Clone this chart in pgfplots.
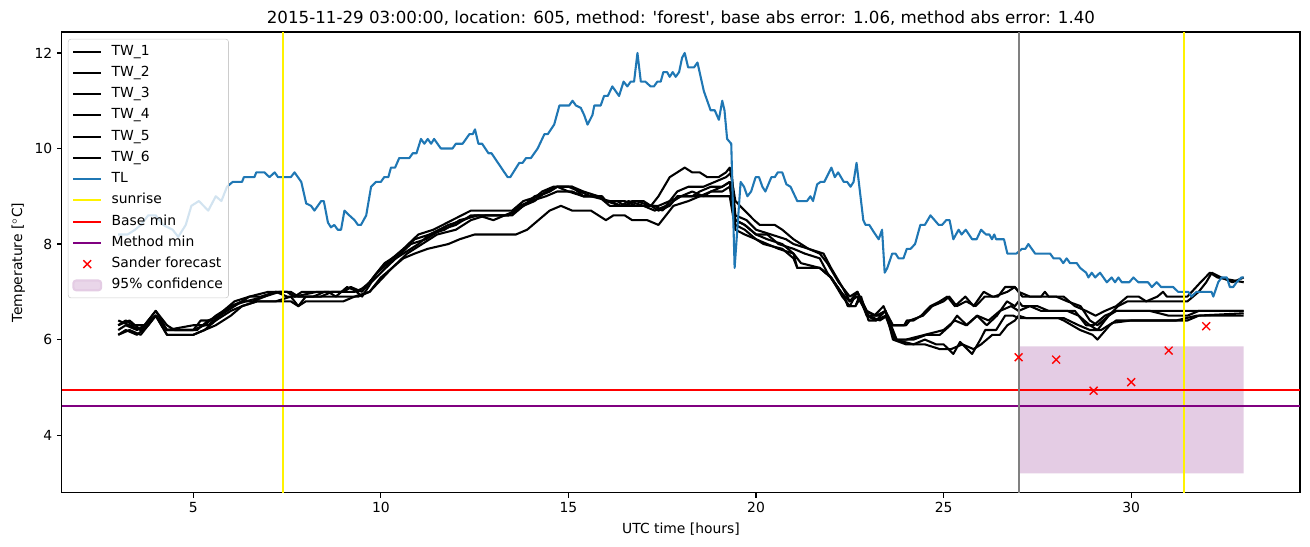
\documentclass[border=0pt]{standalone}
\usepackage{fontspec}
\setmainfont{DejaVu Sans}
\usepackage{pgfplots}
\pgfplotsset{compat=1.18}
\definecolor{tlblue}{RGB}{31,119,180}
\definecolor{mplpurple}{RGB}{128,0,128}
\definecolor{conf}{RGB}{228,204,228}
\definecolor{mplgray}{RGB}{128,128,128}
\pgfplotsset{
  markleg/.style={legend image code/.code={\draw[##1] plot coordinates {(10pt,0pt)};}},
  confleg/.style={legend image code/.code={\fill[conf] (0pt,-3.5pt) rectangle (20pt,3.5pt);}},
}
\begin{document}
\begin{tikzpicture}
\useasboundingbox (-44.6pt,-38.9pt) rectangle (898.6pt,354.9pt);
\begin{axis}[
  at={(0,0)}, anchor=south west,
  scale only axis, width=891.4pt, height=331.9pt,
  xmin=1.5, xmax=34.5, ymin=2.79, ymax=12.44,
  xtick={5,10,...,30}, ytick={4,6,...,12},
  tick align=outside, major tick length=3.5pt,
  tick style={line width=0.8pt, black},
  axis line style={line width=0.8pt},
  xtick pos=bottom, ytick pos=left,
  font=\fontsize{10}{12}\selectfont,
  /pgf/number format/assume math mode=true,
  ticklabel style={font=\fontsize{10}{12}\selectfont},
  title={2015-11-29 03:00:00, location: 605, method: \textquotesingle forest\textquotesingle, base abs error: 1.06, method abs error: 1.40},
  title style={font=\fontsize{12}{14}\selectfont, yshift=-5pt},
  xlabel={UTC time [hours]}, ylabel={Temperature [$^\circ$C]},
  legend cell align=left,
  legend image code/.code={\draw[#1] (0pt,0pt) -- (20pt,0pt);},
  legend style={at={(0.0048,0.985)}, anchor=north west, draw=black!20, rounded corners=2pt,
    fill=white, fill opacity=0.8, text opacity=1, font=\fontsize{10}{12}\selectfont,
    row sep=3.3pt, column sep=5.8pt, inner xsep=3pt, inner ysep=3pt,
    nodes={inner sep=1pt, text height=0.75em, text depth=0.25em}},
  every axis plot/.append style={line width=1.5pt},
]
\addplot[fill=conf, draw=none, forget plot] coordinates {(27,3.2) (33,3.2) (33,5.86) (27,5.86) (27,3.2)};
\addplot[black, line join=round] coordinates {(3.0,6.3)(3.2,6.4)(3.4,6.3)(3.7,6.3)(4.0,6.6)(4.3,6.3)(4.5,6.2)(5.0,6.2)(5.2,6.4)(5.6,6.4)(5.8,6.6)(6.1,6.8)(6.5,6.9)(7.0,7.0)(7.5,7.0)(7.7,6.9)(7.9,7.0)(8.6,7.0)(8.8,6.9)(9.1,7.1)(9.4,7.0)(9.7,7.2)(10.0,7.5)(10.3,7.7)(10.6,7.9)(11.0,8.2)(11.4,8.3)(11.9,8.5)(12.4,8.7)(12.9,8.7)(13.5,8.7)(13.8,8.9)(14.2,9.0)(14.5,9.1)(14.7,9.2)(15.1,9.2)(15.4,9.1)(15.8,9.0)(16.0,8.9)(16.3,8.9)(16.5,8.8)(16.7,8.9)(17.0,8.9)(17.2,8.8)(17.4,9.0)(17.7,9.4)(18.1,9.6)(18.3,9.5)(18.5,9.5)(18.7,9.4)(19.0,9.4)(19.2,9.5)(19.3,9.6)(19.45,8.9)(19.7,8.7)(19.95,8.5)(20.1,8.4)(20.5,8.4)(20.7,8.3)(21.0,8.1)(21.4,7.9)(21.7,7.8)(21.9,7.6)(22.2,7.2)(22.5,6.9)(22.7,7.0)(22.95,6.6)(23.15,6.5)(23.4,6.7)(23.6,6.3)(23.95,6.3)(24.02,6.4)(24.2,6.4)(24.4,6.5)(24.65,6.7)(24.9,6.8)(25.1,6.9)(25.3,6.7)(25.58,6.9)(25.8,6.7)(26.07,7.0)(26.3,6.9)(26.45,6.9)(26.64,7.1)(26.9,7.1)(27.0,7.0)(27.1,6.9)(27.6,6.9)(27.7,7.0)(27.8,6.9)(28.2,6.9)(28.5,6.7)(28.8,6.6)(29.05,6.5)(29.3,6.6)(29.6,6.7)(29.9,6.9)(30.2,6.9)(30.4,6.8)(30.7,6.9)(30.85,7.0)(30.95,6.9)(31.5,6.9)(31.85,7.2)(32.1,7.4)(32.3,7.3)(33.0,7.2)};
\addlegendentry{TW\_1}
\addplot[black, line join=round] coordinates {(3.0,6.2)(3.2,6.3)(3.5,6.2)(3.7,6.3)(4.0,6.5)(4.3,6.2)(5.0,6.2)(5.3,6.3)(5.6,6.5)(6.0,6.7)(6.4,6.8)(6.9,6.9)(7.3,7.0)(7.6,7.0)(7.8,6.9)(8.4,6.9)(8.7,7.0)(9.0,7.0)(9.2,7.1)(9.5,7.0)(9.8,7.3)(10.1,7.6)(10.5,7.8)(10.9,8.1)(11.3,8.2)(11.8,8.4)(12.2,8.5)(12.5,8.6)(13.4,8.6)(13.7,8.8)(14.0,8.9)(14.4,9.0)(14.7,9.1)(15.1,9.1)(15.4,9.0)(15.9,9.0)(16.0,8.9)(16.5,8.9)(16.8,8.8)(17.3,8.8)(17.5,8.7)(17.8,8.9)(18.0,9.0)(18.3,9.1)(18.6,9.0)(18.8,9.1)(19.1,9.2)(19.3,9.3)(19.45,8.5)(19.7,8.4)(20.0,8.2)(20.3,8.1)(20.7,8.0)(21.0,7.8)(21.2,7.6)(21.7,7.5)(22.0,7.3)(22.3,6.9)(22.5,6.7)(22.7,7.0)(22.95,6.5)(23.2,6.4)(23.45,6.6)(23.7,6.0)(24.2,6.0)(24.54,6.1)(24.9,6.1)(25.18,6.3)(25.36,6.5)(25.62,6.3)(25.89,6.5)(26.15,6.3)(26.42,6.5)(26.69,6.8)(26.9,6.7)(27.0,6.8)(27.1,6.7)(27.5,6.7)(27.8,6.6)(28.3,6.6)(28.6,6.5)(28.9,6.3)(29.1,6.2)(29.4,6.5)(29.6,6.6)(31.0,6.6)(33.0,6.6)};
\addlegendentry{TW\_2}
\addplot[black, line join=round] coordinates {(3.0,6.3)(3.3,6.4)(3.6,6.2)(4.0,6.6)(4.3,6.2)(5.0,6.3)(5.4,6.3)(5.7,6.5)(6.1,6.7)(6.5,6.9)(6.8,6.9)(7.2,7.0)(7.5,7.0)(7.7,6.9)(8.3,7.0)(9.0,7.0)(9.2,7.1)(9.5,6.9)(9.75,7.2)(10.0,7.4)(10.4,7.7)(10.8,8.0)(11.2,8.1)(11.6,8.3)(12.0,8.4)(12.4,8.6)(13.4,8.6)(13.8,8.8)(14.1,9.0)(14.5,9.1)(14.7,9.2)(15.1,9.2)(15.4,9.0)(15.8,9.0)(16.0,8.9)(16.4,8.8)(16.6,8.9)(17.0,8.8)(17.4,8.8)(17.7,8.9)(18.0,9.0)(18.3,9.0)(18.5,9.1)(18.8,9.2)(19.1,9.2)(19.3,9.3)(19.45,8.5)(19.7,8.4)(20.0,8.2)(20.3,8.2)(20.6,8.0)(21.0,7.9)(21.3,7.8)(21.7,7.7)(21.9,7.4)(22.25,7.0)(22.5,6.8)(22.7,7.0)(22.95,6.6)(23.2,6.5)(23.45,6.6)(23.65,6.0)(24.0,5.9)(24.5,5.9)(24.9,5.8)(25.2,5.8)(25.5,5.9)(25.8,5.8)(26.0,5.9)(26.3,6.1)(26.5,6.1)(26.7,6.3)(26.9,6.4)(27.0,6.5)(27.2,6.45)(28.2,6.45)(28.6,6.3)(28.9,6.2)(29.2,6.2)(29.5,6.35)(30.0,6.4)(31.5,6.4)(31.8,6.5)(33.0,6.5)};
\addlegendentry{TW\_3}
\addplot[black, line join=round] coordinates {(3.0,6.4)(3.3,6.3)(3.6,6.2)(4.0,6.5)(4.3,6.2)(5.1,6.2)(5.4,6.4)(5.7,6.5)(6.0,6.7)(6.3,6.8)(6.6,6.8)(6.9,6.9)(7.2,7.0)(7.5,6.9)(8.2,6.9)(8.5,7.0)(9.3,7.0)(9.6,7.1)(9.9,7.4)(10.2,7.6)(10.6,7.8)(11.0,8.0)(11.3,8.2)(11.7,8.3)(12.1,8.5)(12.6,8.6)(13.0,8.5)(13.3,8.6)(13.6,8.7)(14.0,8.9)(14.3,9.1)(14.6,9.2)(15.0,9.2)(15.3,9.1)(15.6,9.0)(16.1,8.9)(16.4,8.8)(17.0,8.8)(17.3,8.7)(17.6,8.8)(17.9,9.1)(18.2,9.2)(18.6,9.2)(18.9,9.3)(19.2,9.4)(19.35,9.5)(19.45,8.6)(19.75,8.5)(20.0,8.3)(20.4,8.2)(20.8,8.1)(21.0,8.0)(21.4,7.9)(21.8,7.8)(22.0,7.5)(22.3,7.1)(22.5,6.8)(22.7,6.9)(23.0,6.5)(23.3,6.5)(23.45,6.6)(23.65,6.3)(24.0,6.3)(24.1,6.4)(24.45,6.5)(24.7,6.7)(25.0,6.8)(25.15,6.9)(25.35,6.7)(25.6,6.8)(25.85,6.7)(26.1,6.9)(26.35,6.9)(26.7,7.0)(26.9,7.1)(27.0,7.0)(27.3,6.9)(28.0,6.9)(28.3,6.8)(28.65,6.7)(28.9,6.4)(29.1,6.3)(29.4,6.5)(29.65,6.7)(29.9,6.8)(31.5,6.8)(31.8,7.0)(32.0,7.2)(32.15,7.4)(32.4,7.3)(32.7,7.2)(33.0,7.3)};
\addlegendentry{TW\_4}
\addplot[black, line join=round] coordinates {(3.0,6.1)(3.3,6.2)(3.6,6.1)(4.0,6.5)(4.3,6.1)(5.0,6.1)(5.3,6.2)(5.6,6.4)(6.0,6.6)(6.3,6.7)(6.7,6.8)(7.2,6.8)(7.6,6.9)(7.8,6.7)(8.0,6.9)(9.4,6.9)(9.7,7.0)(10.0,7.3)(10.3,7.5)(10.7,7.8)(11.1,8.0)(11.5,8.2)(12.0,8.3)(12.4,8.5)(12.8,8.6)(13.5,8.6)(13.8,8.8)(14.1,8.9)(14.4,9.1)(14.7,9.2)(15.0,9.1)(15.4,9.0)(15.8,9.0)(16.1,8.8)(16.5,8.8)(16.8,8.9)(17.2,8.8)(17.4,8.7)(17.7,8.8)(17.9,9.0)(18.5,9.0)(18.8,9.1)(19.1,9.1)(19.3,9.2)(19.45,8.4)(19.7,8.3)(20.0,8.1)(20.3,8.0)(20.6,7.9)(21.0,7.8)(21.1,7.5)(21.7,7.5)(22.0,7.3)(22.35,6.9)(22.45,6.7)(22.65,6.7)(22.75,6.9)(23.0,6.5)(23.3,6.4)(23.5,6.5)(23.75,6.0)(24.0,6.0)(24.5,6.1)(25.0,6.2)(25.3,6.4)(25.6,6.3)(25.9,6.5)(26.2,6.4)(26.5,6.6)(26.8,6.7)(27.0,6.6)(27.3,6.7)(27.6,6.6)(28.5,6.6)(28.8,6.3)(29.0,6.3)(29.3,6.5)(29.6,6.6)(30.5,6.6)(31.0,6.5)(31.5,6.5)(31.8,6.6)(33.0,6.6)};
\addlegendentry{TW\_5}
\addplot[black, line join=round] coordinates {(3.0,6.1)(3.2,6.2)(3.5,6.1)(3.8,6.3)(4.0,6.5)(4.3,6.1)(5.0,6.1)(5.3,6.2)(5.6,6.3)(6.0,6.5)(6.3,6.7)(6.7,6.8)(7.6,6.8)(7.8,6.7)(8.0,6.8)(9.0,6.8)(9.3,6.9)(9.7,7.0)(10.0,7.25)(10.3,7.5)(10.6,7.7)(10.9,7.8)(11.25,7.9)(11.8,8.0)(12.1,8.1)(12.5,8.2)(13.6,8.2)(13.9,8.3)(14.2,8.5)(14.5,8.7)(14.8,8.8)(15.1,8.7)(15.6,8.7)(15.8,8.6)(16.0,8.5)(16.2,8.6)(16.5,8.6)(16.7,8.5)(17.1,8.5)(17.4,8.4)(17.6,8.6)(17.8,8.8)(18.2,8.9)(18.5,9.0)(19.3,9.0)(19.45,8.3)(19.7,8.2)(20.0,8.1)(20.2,8.0)(20.7,7.9)(21.0,7.7)(21.1,7.5)(21.7,7.5)(22.0,7.3)(22.35,6.9)(22.45,6.7)(22.65,6.7)(22.8,6.9)(23.0,6.4)(23.2,6.4)(23.45,6.5)(23.7,6.0)(24.2,5.9)(24.5,6.0)(24.8,5.9)(25.0,5.9)(25.26,5.7)(25.44,5.95)(25.76,5.7)(25.98,6.0)(26.11,6.2)(26.4,6.2)(26.64,6.5)(26.86,6.5)(27.0,6.45)(28.06,6.45)(28.2,6.4)(28.64,6.2)(28.97,6.1)(29.1,6.0)(29.43,6.3)(29.6,6.4)(31.2,6.4)(31.74,6.5)(33.0,6.55)};
\addlegendentry{TW\_6}
\addplot[tlblue, line join=round] coordinates {(3.0,8.2)(3.25,8.2)(3.45,8.3)(3.6,8.4)(3.8,8.6)(4.0,8.6)(4.2,8.4)(4.45,8.3)(4.6,8.15)(4.8,8.4)(4.95,8.8)(5.15,8.9)(5.4,8.7)(5.6,9.0)(5.75,8.9)(5.9,9.2)(6.05,9.3)(6.3,9.3)(6.35,9.4)(6.63,9.4)(6.68,9.5)(6.9,9.5)(7.03,9.4)(7.17,9.5)(7.26,9.4)(7.6,9.4)(7.7,9.5)(7.88,9.3)(8.01,8.85)(8.14,8.8)(8.23,8.7)(8.41,8.9)(8.48,8.9)(8.59,8.45)(8.67,8.35)(8.76,8.4)(8.85,8.3)(8.94,8.3)(9.03,8.7)(9.16,8.6)(9.3,8.5)(9.39,8.4)(9.47,8.4)(9.61,8.6)(9.74,9.2)(9.87,9.3)(10.0,9.3)(10.09,9.4)(10.2,9.4)(10.27,9.6)(10.38,9.6)(10.49,9.8)(10.76,9.8)(10.85,9.9)(10.95,9.9)(11.07,10.2)(11.16,10.1)(11.25,10.2)(11.34,10.1)(11.42,10.2)(11.6,10.0)(11.91,10.0)(12.0,10.1)(12.18,10.1)(12.36,10.3)(12.45,10.3)(12.51,10.4)(12.6,10.1)(12.7,10.1)(12.87,9.9)(12.95,9.9)(13.38,9.4)(13.45,9.4)(13.69,9.7)(13.78,9.7)(13.87,9.8)(14.0,9.8)(14.18,10.0)(14.36,10.3)(14.45,10.3)(14.62,10.5)(14.76,10.9)(15.02,10.9)(15.11,11.0)(15.2,10.9)(15.33,10.85)(15.42,10.7)(15.51,10.5)(15.64,10.7)(15.69,10.9)(15.86,10.9)(15.95,11.1)(16.05,11.1)(16.17,11.3)(16.35,11.1)(16.47,11.4)(16.57,11.3)(16.66,11.4)(16.75,11.4)(16.84,12.0)(16.93,11.4)(17.05,11.4)(17.19,11.3)(17.28,11.3)(17.37,11.4)(17.46,11.4)(17.53,11.6)(17.63,11.6)(17.7,11.5)(17.78,11.6)(17.86,11.5)(17.95,11.6)(18.03,11.9)(18.1,12.0)(18.19,11.7)(18.35,11.7)(18.44,11.8)(18.61,11.2)(18.79,10.8)(18.9,10.8)(19.01,10.6)(19.1,11.0)(19.16,10.8)(19.23,10.2)(19.34,10.1)(19.43,7.5)(19.59,9.3)(19.68,9.2)(19.77,9.0)(19.87,9.1)(19.99,9.4)(20.08,9.4)(20.17,9.2)(20.25,9.1)(20.41,9.4)(20.5,9.4)(20.58,9.5)(20.7,9.5)(20.81,9.25)(20.92,9.2)(21.1,8.9)(21.36,8.9)(21.45,9.0)(21.52,8.9)(21.63,9.25)(21.72,9.3)(21.82,9.3)(22.01,9.6)(22.1,9.4)(22.19,9.5)(22.34,9.3)(22.43,9.3)(22.52,9.2)(22.6,9.3)(22.68,9.7)(22.86,8.5)(22.92,8.4)(23.02,8.4)(23.14,8.25)(23.27,8.1)(23.36,8.3)(23.43,7.4)(23.5,7.5)(23.63,7.8)(23.72,7.8)(23.8,7.7)(23.93,7.7)(24.02,7.9)(24.12,7.9)(24.24,8.0)(24.38,8.4)(24.5,8.4)(24.65,8.6)(24.87,8.4)(24.96,8.4)(25.07,8.5)(25.16,8.5)(25.26,8.1)(25.4,8.3)(25.48,8.2)(25.59,8.3)(25.76,8.1)(25.88,8.1)(26.0,8.3)(26.13,8.2)(26.22,8.2)(26.29,8.1)(26.35,8.2)(26.4,8.1)(26.61,8.1)(26.7,7.8)(26.94,7.8)(27.09,7.9)(27.18,7.9)(27.26,8.0)(27.44,7.8)(27.84,7.8)(27.93,7.7)(28.1,7.7)(28.19,7.6)(28.28,7.7)(28.37,7.6)(28.55,7.6)(28.64,7.5)(28.8,7.4)(28.86,7.3)(28.95,7.4)(29.04,7.3)(29.17,7.4)(29.35,7.2)(29.48,7.3)(29.57,7.2)(29.66,7.3)(29.75,7.2)(29.95,7.2)(30.06,7.3)(30.19,7.2)(30.45,7.2)(30.55,7.1)(30.68,7.2)(30.8,7.1)(31.12,7.1)(31.25,7.0)(31.52,7.0)(31.61,6.9)(31.74,7.0)(32.14,7.0)(32.19,6.9)(32.32,7.2)(32.41,7.3)(32.55,7.3)(32.63,7.1)(32.72,7.1)(32.81,7.2)(32.94,7.3)(33.0,7.3)};
\addlegendentry{TL}
\addplot[yellow] coordinates {(7.4,2.79) (7.4,12.44)};
\addlegendentry{sunrise}
\addplot[yellow, forget plot] coordinates {(31.41,2.79) (31.41,12.44)};
\addplot[red] coordinates {(1.5,4.94) (34.5,4.94)};
\addlegendentry{Base min}
\addplot[mplpurple] coordinates {(1.5,4.61) (34.5,4.61)};
\addlegendentry{Method min}
\addplot[mplgray, forget plot] coordinates {(27.0,2.79) (27.0,12.44)};
\addplot[red, only marks, mark=x, mark size=4pt, mark options={line width=1pt}, markleg]
  coordinates {(27,5.63) (28,5.58) (29,4.93) (30,5.11) (31,5.77) (32,6.28)};
\addlegendentry{Sander forecast}
\addlegendimage{confleg}
\addlegendentry{95\% confidence}
\end{axis}
\end{tikzpicture}
\end{document}
